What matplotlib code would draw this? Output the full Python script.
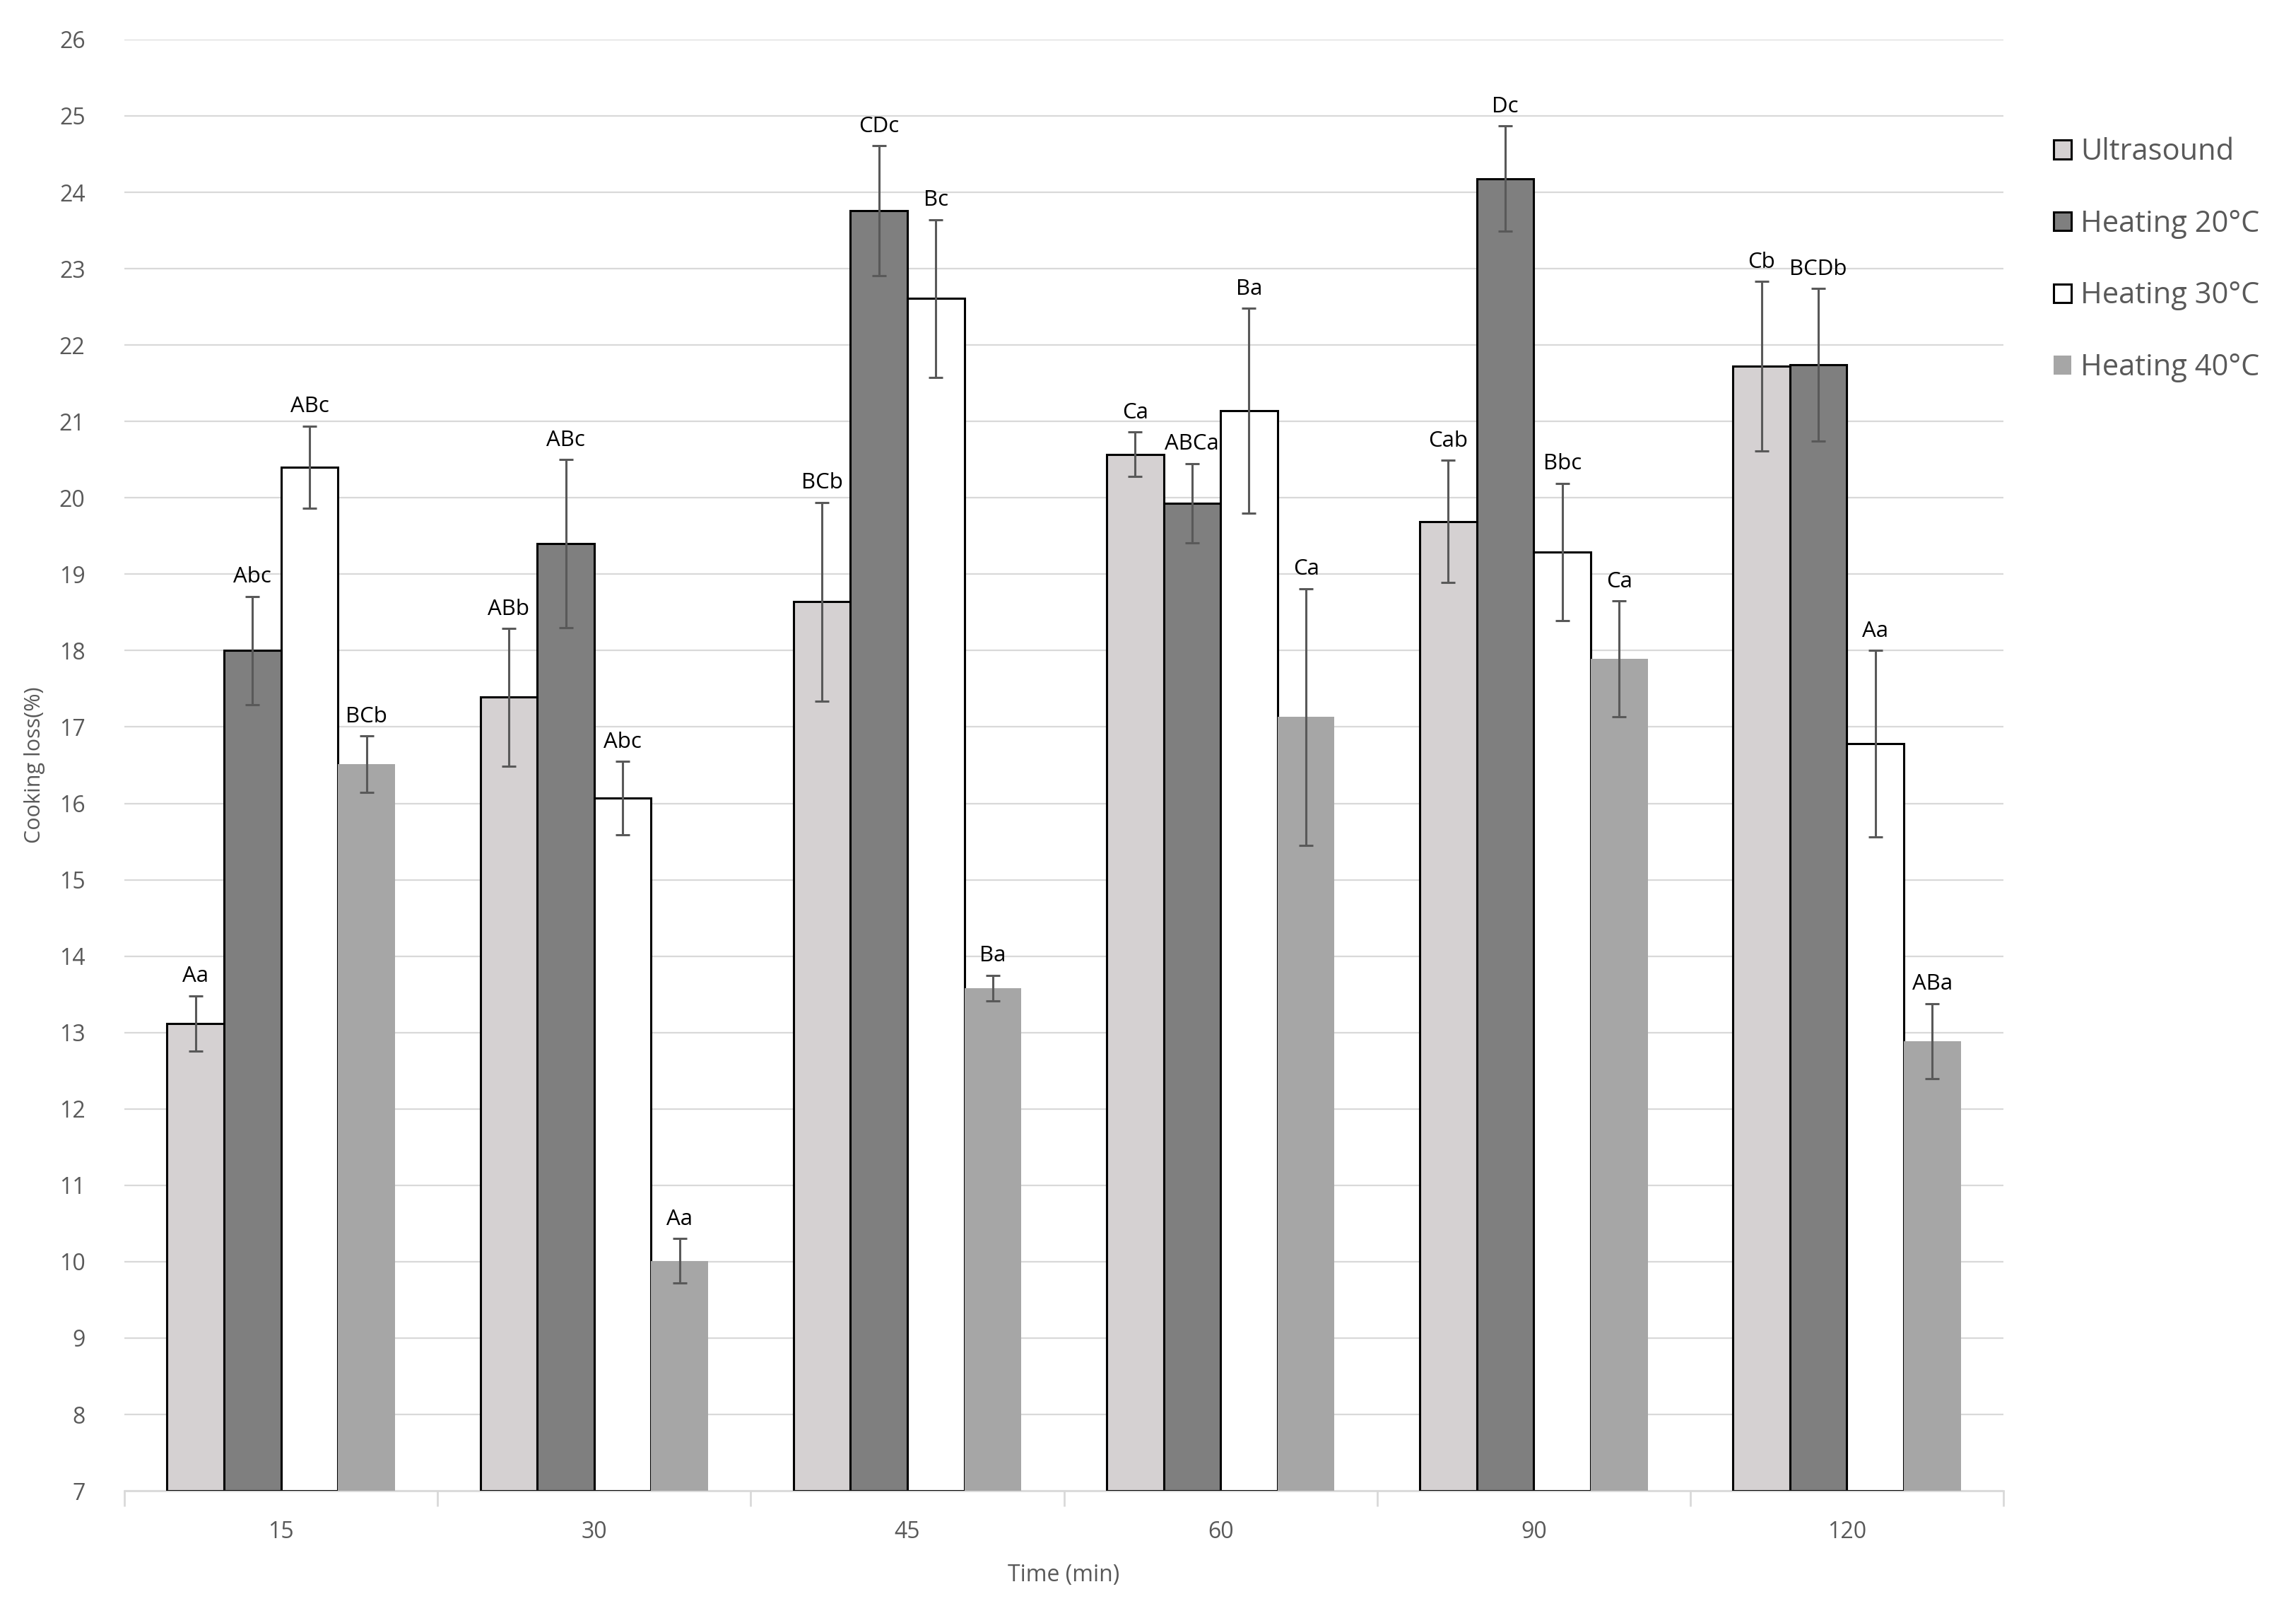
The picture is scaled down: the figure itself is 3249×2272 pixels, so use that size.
import matplotlib
matplotlib.use('Agg')
import matplotlib.pyplot as plt
import numpy as np

plt.rcParams['font.family'] = ['Open Sans', 'DejaVu Sans']

times = ['15', '30', '45', '60', '90', '120']
series = ['Ultrasound', 'Heating 20°C', 'Heating 30°C', 'Heating 40°C']

ultrasound = [13.12, 17.39, 18.64, 20.57, 19.69, 21.72]
heating20 = [18.00, 19.40, 23.76, 19.93, 24.18, 21.74]
heating30 = [20.40, 16.07, 22.61, 21.14, 19.29, 16.78]
heating40 = [16.51, 10.01, 13.58, 17.13, 17.89, 12.89]

err_us = [0.36, 0.90, 1.30, 0.29, 0.80, 1.11]
err_h20 = [0.71, 1.10, 0.85, 0.52, 0.69, 1.00]
err_h30 = [0.54, 0.48, 1.03, 1.34, 0.90, 1.22]
err_h40 = [0.37, 0.29, 0.17, 1.68, 0.76, 0.49]

lab_us = ['Aa', 'ABb', 'BCb', 'Ca', 'Cab', 'Cb']
lab_h20 = ['Abc', 'ABc', 'CDc', 'ABCa', 'Dc', 'BCDb']
lab_h30 = ['ABc', 'Abc', 'Bc', 'Ba', 'Bbc', 'Aa']
lab_h40 = ['BCb', 'Aa', 'Ba', 'Ca', 'Ca', 'ABa']

values = [ultrasound, heating20, heating30, heating40]
errors = [err_us, err_h20, err_h30, err_h40]
letters = [lab_us, lab_h20, lab_h30, lab_h40]
colors = ['#D5D1D2', '#7F7F7F', '#FFFFFF', '#A6A6A6']
edges = ['black', 'black', 'black', 'none']

fig = plt.figure(figsize=(32.49, 22.72), dpi=100)
ax = fig.add_axes([0.0542, 0.0717, 0.8184, 0.9037])

x = np.arange(len(times))
width = 0.182
base = 7

for i in range(4):
    pos = x + (i - 1.5) * width
    vals = np.array(values[i])
    ax.bar(pos, vals - base, width, bottom=base, color=colors[i],
           edgecolor=edges[i], linewidth=2.2, label=series[i], zorder=3)
    ax.errorbar(pos, vals, yerr=errors[i], fmt='none', ecolor='#595959',
                elinewidth=2.2, capsize=7, capthick=2.2, zorder=4)
    for p, v, e, t in zip(pos, vals, errors[i], letters[i]):
        ax.annotate(t, (p, v + e), xytext=(0, 9), textcoords='offset points',
                    ha='center', va='bottom', fontsize=22.5, color='black', zorder=5)

ax.set_ylim(7, 26)
ax.set_yticks(range(7, 27))
ax.set_xlim(-0.5, len(times) - 0.5)
ax.set_xticks(x)
ax.set_xticklabels(times)
ax.set_xticks(np.arange(-0.5, len(times)), minor=True)
ax.tick_params(axis='x', which='major', length=0, labelsize=23, colors='#595959', pad=30)
ax.tick_params(axis='x', which='minor', length=16, width=2, color='#D9D9D9')
ax.tick_params(axis='y', length=0, labelsize=23, colors='#595959', pad=40)

ax.grid(axis='y', color='#D9D9D9', linewidth=1.6, zorder=0)
for s in ['top', 'right', 'left']:
    ax.spines[s].set_visible(False)
ax.spines['bottom'].set_color('#D9D9D9')
ax.spines['bottom'].set_linewidth(2)
ax.spines['bottom'].set_zorder(2)

ax.set_xlabel('Time (min)', fontsize=23, color='#595959', labelpad=20)
ax.set_ylabel('Cooking loss(%)', fontsize=22, color='#595959', labelpad=14)

leg = ax.legend(loc='upper left', bbox_to_anchor=(0.883, 0.931),
                bbox_transform=fig.transFigure, frameon=False, fontsize=30,
                handlelength=0.6, handleheight=0.6, handletextpad=0.3,
                labelspacing=1.43)
for t in leg.get_texts():
    t.set_color('#595959')

fig.savefig('out.png', dpi=100)
